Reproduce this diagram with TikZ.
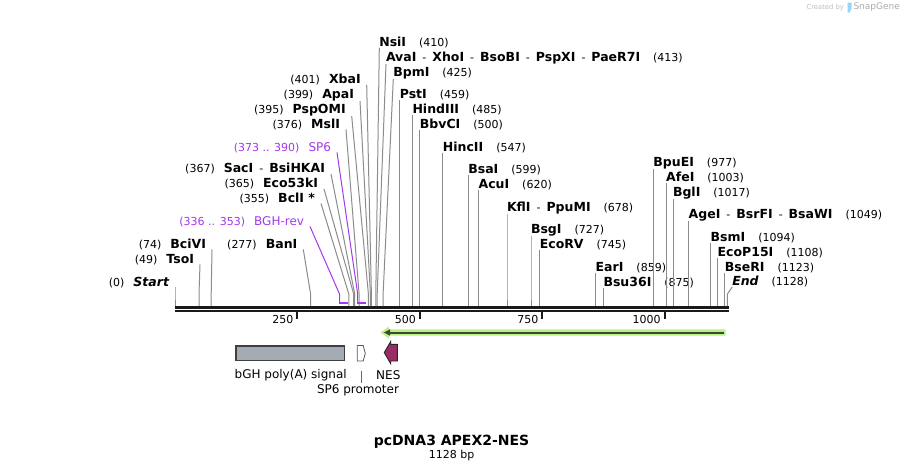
\documentclass[tikz,border=0pt]{standalone}
\usepackage{fontspec}
\setmainfont{DejaVu Sans}
\definecolor{sitegray}{RGB}{140,140,140}
\definecolor{primer}{RGB}{166,54,240}
\definecolor{halo}{RGB}{184,242,134}
\definecolor{darkarrow}{RGB}{60,72,52}
\definecolor{nescol}{RGB}{153,45,100}
\definecolor{boxgray}{RGB}{164,171,181}
\definecolor{wmblue}{RGB}{150,215,245}
\newcommand\Enz[1]{{\fontsize{12.5}{14}\selectfont\bfseries #1}}
\newcommand\EnzI[1]{{\fontsize{12.5}{14}\selectfont\bfseries\itshape #1}}
\newcommand\Pos[1]{{\fontsize{11}{13}\selectfont(#1)}}
\newcommand\Sep{{\fontsize{11}{13}\selectfont\hspace{6pt}-\hspace{6pt}}}
\newcommand\GapL{\hspace{9pt}}
\newcommand\GapR{\hspace{13pt}}
\newcommand\Lsite[5]{%
  \node[lbl, anchor=base east] (l#1) at (#2,#3) {#4};
  \coordinate (s#1) at (#5,306);
  \draw[sline] ([xshift=6pt]l#1.south east) -- ([yshift=12pt]s#1) -- (s#1);
}
\newcommand\Rsite[5]{%
  \node[lbl, anchor=base west] (l#1) at (#2,#3) {#4};
  \coordinate (s#1) at (#5,306);
  \draw[sline] (l#1.south west) -- ([yshift=12pt]s#1) -- (s#1);
}
\begin{document}
\begin{tikzpicture}[x=1pt,y=-1pt,
  lbl/.style={inner sep=0pt, outer sep=0pt},
  sline/.style={draw=sitegray, line width=1pt},
  pline/.style={draw=primer, line width=1pt},
  pbracket/.style={draw=primer, line width=2pt},
  tickmark/.style={draw=black!90, line width=2pt},
  feat/.style={font=\fontsize{12}{14}\selectfont, inner sep=0pt}]
\useasboundingbox (0,0) rectangle (904,472);
\fill[white] (0,0) rectangle (904,472);

% watermark
\node[lbl, anchor=west, text=gray!50] (wm1) at (806.5,7.5) {\fontsize{6.8}{8}\selectfont Created by};
\fill[wmblue] (847.5,2.5) -- (851.5,2.5) -- (851.5,8.5) -- (849.5,12.5) -- (847.5,12.5) -- cycle;
\node[lbl, anchor=west, text=gray!65] (wm2) at (853.5,7.5) {\fontsize{9}{11}\selectfont SnapGene};

% backbone
\coordinate (bbL) at (175,307.3);
\coordinate (bbR) at (728.5,307.3);
\draw[line width=3pt, black!90] (bbL) -- (bbR);
\draw[line width=2pt, black!90] ([yshift=-4pt]bbL) -- ([yshift=-4pt]bbR);

% ticks
\foreach \x/\t in {297.4/250, 419.9/500, 542.4/750, 664.7/1000}{
  \draw[tickmark] (\x,311) -- (\x,318.5);
  \node[lbl, anchor=east] (t\t) at (\x-4,319.5) {\fontsize{11}{13}\selectfont\t};
}

% left-side sites
\Lsite{Start}{169}{286}{\Pos{0}\GapL\EnzI{Start}}{175}
\Lsite{Tso}{194}{263}{\Pos{49}\GapL\Enz{TsoI}}{199.0}
\Lsite{BciVI}{206}{248}{\Pos{74}\GapL\Enz{BciVI}}{211.2}
\Lsite{Ban}{297.3}{248}{\Pos{277}\GapL\Enz{BanI}}{310.6}
\Lsite{Bcl}{315}{202}{\Pos{355}\GapL\Enz{BclI *}}{348.8}
\Lsite{Eco53}{318}{187.5}{\Pos{365}\GapL\Enz{Eco53kI}}{353.7}
\Lsite{Sac}{325}{172.5}{\Pos{367}\GapL\Enz{SacI}\Sep\Enz{BsiHKAI}}{354.7}
\Lsite{Msl}{340}{128}{\Pos{376}\GapL\Enz{MslI}}{359.1}
\Lsite{PspOMI}{345.7}{113.5}{\Pos{395}\GapL\Enz{PspOMI}}{368.4}
\Lsite{Apa}{354}{98.5}{\Pos{399}\GapL\Enz{ApaI}}{370.4}
\Lsite{Xba}{360.7}{83.5}{\Pos{401}\GapL\Enz{XbaI}}{371.4}

% primers
\node[lbl, anchor=base east, text=primer] (lBGH) at (304,225) {{\fontsize{11}{13}\selectfont(336 .. 353)}\GapL{\fontsize{12}{14}\selectfont BGH-rev}};
\coordinate (sBGH) at (339.5,302.7);
\coordinate (eBGH) at (347.9,302.7);
\draw[pline] ([xshift=6pt]lBGH.south east) -- ([yshift=8.7pt]sBGH) -- (sBGH);
\draw[pbracket] ([xshift=-0.5pt]sBGH) -- (eBGH);

\node[lbl, anchor=base east, text=primer] (lSP6) at (331,151) {{\fontsize{11}{13}\selectfont(373 .. 390)}\GapL{\fontsize{12}{14}\selectfont SP6}};
\coordinate (sSP6) at (357.7,302.7);
\coordinate (eSP6) at (366.0,302.7);
\draw[pline] ([xshift=6pt]lSP6.south east) -- ([yshift=8.7pt]sSP6) -- (sSP6);
\draw[pbracket] ([xshift=-0.5pt]sSP6) -- (eSP6);

% right-side sites
\Rsite{Nsi}{379.3}{46.5}{\Enz{NsiI}\GapR\Pos{410}}{375.8}
\Rsite{Ava}{386}{61.5}{\Enz{AvaI}\Sep\Enz{XhoI}\Sep\Enz{BsoBI}\Sep\Enz{PspXI}\Sep\Enz{PaeR7I}\GapR\Pos{413}}{377.2}
\Rsite{Bpm}{393.3}{76.5}{\Enz{BpmI}\GapR\Pos{425}}{383.1}
\Rsite{Pst}{399.8}{98.5}{\Enz{PstI}\GapR\Pos{459}}{399.8}
\Rsite{Hind}{412.5}{113.5}{\Enz{HindIII}\GapR\Pos{485}}{412.5}
\Rsite{Bbv}{419.9}{128.5}{\Enz{BbvCI}\GapR\Pos{500}}{419.9}
\Rsite{Hinc}{442.9}{151.5}{\Enz{HincII}\GapR\Pos{547}}{442.9}
\Rsite{Bsa}{468.3}{173.5}{\Enz{BsaI}\GapR\Pos{599}}{468.3}
\Rsite{Acu}{478.6}{188.5}{\Enz{AcuI}\GapR\Pos{620}}{478.6}
\Rsite{Kfl}{507.0}{211.5}{\Enz{KflI}\Sep\Enz{PpuMI}\GapR\Pos{678}}{507.0}
\Rsite{Bsg}{531.0}{233.5}{\Enz{BsgI}\GapR\Pos{727}}{531.0}
\Rsite{EcoRV}{539.8}{248.5}{\Enz{EcoRV}\GapR\Pos{745}}{539.8}
\Rsite{Ear}{595.7}{271.5}{\Enz{EarI}\GapR\Pos{859}}{595.7}
\Rsite{Bsu}{603.5}{286.5}{\Enz{Bsu36I}\GapR\Pos{875}}{603.5}
\Rsite{BpuE}{653.4}{166.5}{\Enz{BpuEI}\GapR\Pos{977}}{653.4}
\Rsite{Afe}{666.2}{181.5}{\Enz{AfeI}\GapR\Pos{1003}}{666.2}
\Rsite{Bgl}{673.0}{196.5}{\Enz{BglI}\GapR\Pos{1017}}{673.0}
\Rsite{Age}{688.7}{218.5}{\Enz{AgeI}\Sep\Enz{BsrFI}\Sep\Enz{BsaWI}\GapR\Pos{1049}}{688.7}
\Rsite{Bsm}{710.7}{241.5}{\Enz{BsmI}\GapR\Pos{1094}}{710.7}
\Rsite{EcoP}{717.6}{256.5}{\Enz{EcoP15I}\GapR\Pos{1108}}{717.6}
\Rsite{BseR}{724.9}{271.5}{\Enz{BseRI}\GapR\Pos{1123}}{724.9}
\Rsite{End}{732.3}{285.5}{\EnzI{End}\GapR\Pos{1128}}{727.4}

% APEX2 arrow (green, leftward)
\fill[halo] (725.5,329.3) -- (389,329.3) -- (389,326.5) -- (380.5,332.5) -- (389,338.5) -- (389,335.7) -- (725.5,335.7) -- cycle;
\draw[darkarrow, line width=2pt] (724,332.5) -- (388,332.5);
\fill[darkarrow] (384,332.5) -- (390,329.3) -- (390,335.7) -- cycle;

% features
\node[draw=black!75, line width=1.3pt, fill=boxgray, minimum width=108.5pt, minimum height=14.5pt, inner sep=0pt] (bgh) at (290.3,353.3) {};
\node[feat] (bghl) at (290.7,375.5) {bGH poly(A) signal};

\draw[draw=black!65, line width=0.8pt, fill=white] (357.2,345.5) -- (363.2,345.5) -- (365.3,353.3) -- (363.2,361) -- (357.2,361) -- cycle;
\coordinate (sp6a) at (361.3,370.5);
\coordinate (sp6b) at (361.3,383);
\draw[draw=black!60, line width=0.8pt] (sp6a) -- (sp6b);
\node[feat] (sp6l) at (358,390.5) {SP6 promoter};

\draw[draw=black!85, line width=0.9pt, fill=nescol] (384.3,352.5) -- (390.7,341.5) -- (390.7,344.3) -- (397.3,344.3) -- (397.3,361) -- (390.7,361) -- (390.7,363.7) -- cycle;
\node[feat] (nesl) at (388.3,375.5) {NES};

% title
\node[lbl] (title) at (451.5,441.5) {\fontsize{14}{16}\selectfont\bfseries pcDNA3 APEX2-NES};
\node[lbl] (size) at (451.7,455.5) {\fontsize{11}{13}\selectfont 1128 bp};
\end{tikzpicture}
\end{document}
